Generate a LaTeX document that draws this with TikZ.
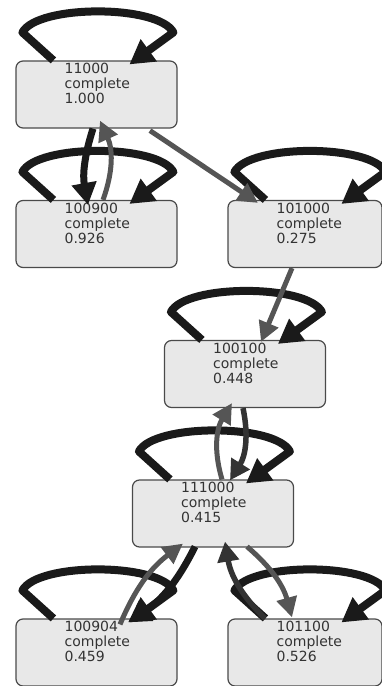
\documentclass[tikz,border=0pt]{standalone}
\usepackage{fontspec}
\setmainfont{DejaVu Sans}
\usetikzlibrary{arrows.meta}
\definecolor{boxfill}{HTML}{E8E8E8}
\definecolor{boxline}{HTML}{4A4A4A}
\definecolor{edgeblack}{HTML}{1A1A1A}
\definecolor{edgedark}{HTML}{333333}
\definecolor{edgegray}{HTML}{555555}

\begin{document}
\begin{tikzpicture}[
    x=1pt,y=1pt,
    state/.style={draw=boxline, fill=boxfill, line width=1.2pt, rounded corners=7pt,
      minimum width=161pt, minimum height=67pt, inner sep=0pt},
    statetext/.style={anchor=north west, inner sep=0pt, align=left, text=black!80,
      font=\fontsize{14}{15}\selectfont},
    selfloop/.style={line width=8pt, edgeblack, line join=round, -{Triangle[length=24pt,width=26pt]}},
    blackedge/.style={line width=7pt, edgeblack, -{Triangle[length=22pt,width=24pt]}},
    darkedge/.style={line width=5.5pt, edgedark, -{Triangle[length=20pt,width=21pt]}},
    grayedge/.style={line width=5pt, edgegray, -{Triangle[length=20pt,width=20pt]}}
    ]
    \useasboundingbox (0,0) rectangle (382,-686);
    % states
    \node[state] (nA) at (96.5,-94.5) {};
    \node[state] (nB) at (96.5,-234) {};
    \node[state, minimum width=154pt] (nC) at (305,-234) {};
    \node[state] (nD) at (245,-374) {};
    \node[state] (nE) at (213,-513.5) {};
    \node[state] (nF) at (96.5,-652.5) {};
    \node[state, minimum width=154pt] (nG) at (305,-652.5) {};
    \node[statetext] (tA) at ([xshift=49,yshift=-3]nA.north west) {11000\\complete\\1.000};
    \node[statetext] (tB) at ([xshift=49,yshift=-3]nB.north west) {100900\\complete\\0.926};
    \node[statetext] (tC) at ([xshift=49,yshift=-3]nC.north west) {101000\\complete\\0.275};
    \node[statetext] (tD) at ([xshift=49,yshift=-3]nD.north west) {100100\\complete\\0.448};
    \node[statetext] (tE) at ([xshift=49,yshift=-3]nE.north west) {111000\\complete\\0.415};
    \node[statetext] (tF) at ([xshift=49,yshift=-3]nF.north west) {100904\\complete\\0.459};
    \node[statetext] (tG) at ([xshift=49,yshift=-3]nG.north west) {101100\\complete\\0.526};
    % self loops
    \foreach \n in {nA,nB,nC,nD,nE,nF,nG} {
      \begin{scope}[shift={(\n.north west)}]
        \draw[selfloop] (38,0) -- (7,28) .. controls (22,56) and (143,56) .. (158,28) -- (114,-4);
      \end{scope}
    }
    % transitions
    \draw[blackedge] ([xshift=-3.5]nA.south) to[bend right=14] ([xshift=-8.5,yshift=-5]nB.north);
    \draw[grayedge] ([xshift=6.5]nB.north) to[bend right=22] ([xshift=3.5,yshift=8]nA.south);
    \draw[grayedge] ([xshift=53.5,yshift=-2]nA.south) -- ([xshift=-47,yshift=-3]nC.north);
    \draw[grayedge] ([xshift=-13]nC.south) -- ([xshift=16,yshift=-2]nD.north);
    \draw[grayedge] ([xshift=9]nE.north) to[bend left=24] ([xshift=-13,yshift=5]nD.south);
    \draw[darkedge] ([xshift=-2]nD.south) to[bend left=22] ([xshift=17,yshift=-1]nE.north);
    \draw[grayedge] ([xshift=23.5,yshift=-6]nF.north) to[bend left=15] ([xshift=-30,yshift=4]nE.south);
    \draw[blackedge] ([xshift=-18,yshift=1]nE.south) to[bend left=15] ([xshift=31.5,yshift=-4]nF.north);
    \draw[darkedge] ([xshift=-40]nG.north) to[bend left=18] ([xshift=12,yshift=6]nE.south);
    \draw[grayedge] ([xshift=34,yshift=1]nE.south) to[bend left=17] ([xshift=-13,yshift=1]nG.north);
\end{tikzpicture}
\end{document}
